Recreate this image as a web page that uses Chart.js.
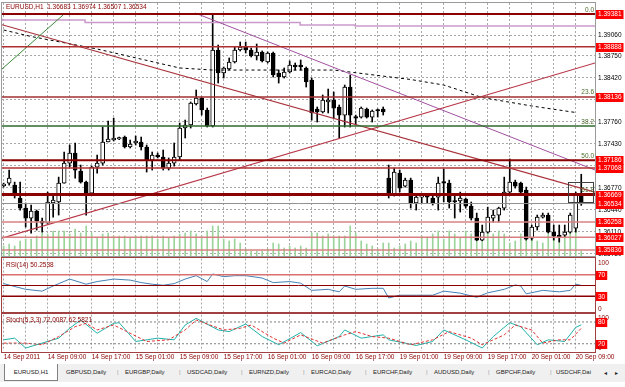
<!DOCTYPE html>
<html lang="en">
<head>
<meta charset="utf-8">
<title>EURUSD,H1</title>
<script src="https://cdn.jsdelivr.net/npm/chart.js@4.4.0/dist/chart.umd.min.js"></script>
<style>
  body { margin: 0; width: 625px; height: 387px; overflow: hidden; background: #ffffff; position: relative; font-family: "Liberation Sans", Arial, sans-serif; }
  canvas { position: absolute; left: 0; }
  #graficoPrincipal { top: 0; }
  #graficoRsi { top: 258px; }
  #graficoEstoc { top: 313px; }
  .quadro { position: absolute; left: 1px; width: 595px; box-sizing: border-box; border: 1px solid #9a9a9a; pointer-events: none; }
  .legenda { position: absolute; left: 6px; font-size: 6.5px; color: #8b0000; white-space: pre; line-height: 8px; }
  #abas { position: absolute; left: 0; top: 364px; width: 625px; height: 18px; background: #f0f0f0; font-size: 6px; color: #222; }
  #abas span { position: absolute; top: 5px; white-space: nowrap; }
  #abas .ativa { top: 0; left: 4px; width: 54px; height: 17px; background: #fff; border: 1px solid #808080; border-top: none; box-sizing: border-box; text-align: center; line-height: 16px; }
  #abas .sep { color: #999; }
</style>
</head>
<body>
<canvas id="graficoPrincipal" width="625" height="258"></canvas>
<canvas id="graficoRsi" width="625" height="55"></canvas>
<canvas id="graficoEstoc" width="625" height="50"></canvas>

<div class="quadro" style="top:2px;height:255px"></div>
<div class="quadro" style="top:257px;height:56px;border-color:#a04040"></div>
<div class="quadro" style="top:313px;height:40px;border-color:#a04040"></div>

<div class="legenda" style="top:3px">EURUSD,H1  1.36683 1.36974 1.36507 1.36534</div>
<div class="legenda" style="top:261px">RSI(14) 50.2538</div>
<div class="legenda" style="top:316px">Stoch(5,3,3) 72.0087 62.5821</div>

<div id="abas">
  <span class="ativa">EURUSD,H1</span>
  <span style="left:66px">GBPUSD,Daily</span><span class="sep" style="left:117px">|</span>
  <span style="left:125px">EURGBP,Daily</span><span class="sep" style="left:179px">|</span>
  <span style="left:187px">USDCAD,Daily</span><span class="sep" style="left:241px">|</span>
  <span style="left:249px">EURNZD,Daily</span><span class="sep" style="left:303px">|</span>
  <span style="left:311px">EURCAD,Daily</span><span class="sep" style="left:365px">|</span>
  <span style="left:373px">EURCHF,Daily</span><span class="sep" style="left:426px">|</span>
  <span style="left:434px">AUDUSD,Daily</span><span class="sep" style="left:488px">|</span>
  <span style="left:496px">GBPCHF,Daily</span><span class="sep" style="left:550px">|</span>
  <span style="left:556px">USDCHF,Dai</span>
  <span style="left:604px">&#9666;</span><span style="left:615px">&#9656;</span>
</div>

<script>
// ---------- Dados (velas de 1 hora, EURUSD) ----------
const abertura = [1.36804,1.36841,1.36811,1.36617,1.36466,1.36316,1.36421,1.36271,1.36240,1.36542,
  1.36557,1.36841,1.37142,1.37293,1.37021,1.36856,1.36691,1.37082,1.37142,1.37458,
  1.37488,1.37503,1.37533,1.37383,1.37443,1.37458,1.37383,1.37187,1.37263,1.37233,
  1.37067,1.37142,1.37233,1.37668,1.37713,1.38029,1.38119,1.37939,1.37698,1.38840,
  1.38494,1.38555,1.38660,1.38840,1.38885,1.38840,1.38750,1.38810,1.38660,1.38795,
  1.38494,1.38434,1.38509,1.38615,1.38615,1.38570,1.38389,1.37954,1.37909,1.38059,
  1.38089,1.37984,1.37863,1.38284,1.37833,1.37833,1.37954,1.37833,1.37931,1.37954,
  1.36916,1.36661,1.36991,1.36796,1.36886,1.36542,1.36631,1.36646,1.36617,1.36631,
  1.36856,1.36841,1.36572,1.36572,1.36601,1.36496,1.36316,1.35985,1.36105,1.36316,
  1.36361,1.36466,1.36706,1.36856,1.36841,1.36736,1.36015,1.36181,1.36331,1.36361,
  1.36105,1.36060,1.36060,1.36105,1.36165,1.36683]
const maxima = [1.36841,1.37037,1.36856,1.36856,1.36542,1.36511,1.36436,1.36316,1.36706,1.36661,
  1.36931,1.37308,1.37413,1.37443,1.37112,1.36871,1.37097,1.37263,1.37683,1.37773,
  1.37818,1.37533,1.37548,1.37488,1.37548,1.37533,1.37413,1.37308,1.37293,1.37338,
  1.37218,1.37443,1.37743,1.37788,1.38059,1.38239,1.38134,1.37968,1.39381,1.38915,
  1.38585,1.38720,1.38885,1.38960,1.38960,1.38870,1.38930,1.38825,1.38810,1.38810,
  1.38539,1.38570,1.38675,1.38645,1.38690,1.38585,1.38419,1.37984,1.38164,1.38254,
  1.38209,1.38014,1.38314,1.38464,1.37863,1.37984,1.37968,1.37939,1.37954,1.37984,
  1.37112,1.37067,1.37037,1.36916,1.36916,1.36661,1.36661,1.36661,1.36646,1.36931,
  1.37052,1.36886,1.36661,1.36706,1.36617,1.36557,1.36391,1.36211,1.36480,1.36436,
  1.36480,1.36931,1.37203,1.36886,1.36856,1.36781,1.36211,1.36361,1.36391,1.36391,
  1.36211,1.36211,1.36211,1.36391,1.36706,1.36974]
const minima = [1.36781,1.36811,1.36617,1.36436,1.36181,1.36090,1.36135,1.36105,1.36240,1.36331,
  1.36361,1.36841,1.37082,1.36916,1.36841,1.36361,1.36661,1.36991,1.37112,1.37458,
  1.37473,1.37495,1.37368,1.37368,1.37413,1.37338,1.37007,1.37037,1.37218,1.37037,
  1.37037,1.37097,1.37187,1.37518,1.37668,1.38014,1.37863,1.37683,1.37683,1.38344,
  1.38419,1.38539,1.38645,1.38825,1.38795,1.38735,1.38690,1.38660,1.38645,1.38434,
  1.38344,1.38419,1.38494,1.38539,1.38539,1.38284,1.37788,1.37758,1.37894,1.37894,
  1.37818,1.37518,1.37683,1.37683,1.37713,1.37818,1.37818,1.37758,1.37833,1.37863,
  1.36617,1.36646,1.36706,1.36781,1.36466,1.36436,1.36542,1.36542,1.36511,1.36436,
  1.36557,1.36466,1.36316,1.36406,1.36466,1.36286,1.35975,1.35975,1.36090,1.36256,
  1.36256,1.36436,1.36691,1.36766,1.36691,1.35985,1.35985,1.36135,1.36316,1.36090,
  1.35985,1.35955,1.36030,1.36090,1.36105,1.36507]
const fechamento = [1.36811,1.36916,1.36661,1.36466,1.36316,1.36421,1.36271,1.36240,1.36557,1.36587,
  1.36841,1.37142,1.37293,1.37037,1.36856,1.36691,1.37082,1.37142,1.37458,1.37503,
  1.37518,1.37525,1.37383,1.37428,1.37473,1.37383,1.37187,1.37263,1.37233,1.37067,
  1.37142,1.37233,1.37668,1.37713,1.38044,1.38119,1.37939,1.37698,1.38840,1.38494,
  1.38570,1.38660,1.38840,1.38885,1.38840,1.38750,1.38810,1.38675,1.38795,1.38464,
  1.38434,1.38509,1.38615,1.38585,1.38585,1.38359,1.37894,1.37909,1.38089,1.38089,
  1.37968,1.37863,1.38284,1.37863,1.37818,1.37968,1.37833,1.37924,1.37924,1.37909,
  1.36661,1.37007,1.36766,1.36886,1.36542,1.36631,1.36638,1.36631,1.36542,1.36841,
  1.36841,1.36557,1.36557,1.36617,1.36496,1.36316,1.35985,1.36105,1.36331,1.36361,
  1.36466,1.36706,1.36856,1.36796,1.36706,1.36000,1.36181,1.36331,1.36361,1.36105,
  1.36045,1.36030,1.36105,1.36361,1.36676,1.36534]
// volume de ticks por barra
const volume = [1000,1200,1000,1500,1700,1700,2000,2300,2200,2500,
  2500,2500,2200,2700,2300,3000,2300,1800,2200,2300,
  2000,2000,2000,1800,2000,2000,2000,2000,1700,2000,
  1800,2000,2200,2300,2500,2200,2000,2500,3000,3000,
  1700,1500,1700,1300,700,500,500,500,700,1300,
  1200,800,1000,800,1000,800,2300,2300,2000,2200,
  2000,2000,2000,3000,2300,1500,1200,1000,700,1300,
  1300,800,1000,1200,1500,1300,2000,1800,2200,2500,
  1700,2500,2200,1800,2500,2200,2000,2800,2500,2200,
  2500,2200,1300,1500,2200,2700,2000,1500,1300,2200,
  1800,1800,2200,2500,2800,500]

// rótulos do eixo de tempo (uma a cada 8 barras)
const rotulosTempo = ['14 Sep 2011','14 Sep 09:00','14 Sep 17:00','15 Sep 01:00','15 Sep 09:00','15 Sep 17:00',
  '16 Sep 01:00','16 Sep 09:00','16 Sep 17:00','19 Sep 01:00','19 Sep 09:00','19 Sep 17:00','20 Sep 01:00','20 Sep 09:00']
// escala de preços
const rotulosPreco = [1.39390,1.39060,1.38750,1.38420,1.38090,1.37760,1.37430,1.37100,1.36770,1.36440,1.36110,1.35780]
// níveis horizontais desenhados (suporte / resistência)
const niveis = [1.39381,1.38888,1.38136,1.37698,1.37186,1.37068,1.36669,1.36534,1.36258,1.36027,1.35836]
const niveisMarcados = [1.39381,1.38888,1.38136,1.37186,1.37068,1.36669,1.36534,1.36258,1.36027,1.35836]
// níveis de Fibonacci
const fiboTextos = ['0.0','23.6','38.2','50.0','61.8']
const fiboPrecos = [1.39381,1.38136,1.37698,1.37186,1.36669]

// linhas de tendência (barra, preço)
const tendenciaVerde = [{x: -0.3, y: 1.38555}, {x: 10.8, y: 1.39366}]
const tendenciaBaixaVermelha = [{x: -0.3, y: 1.39220}, {x: 107.5, y: 1.36706}]
const tendenciaBaixaRoxa = [{x: 34.8, y: 1.39396}, {x: 107.5, y: 1.37037}]
const tendenciaAltaVermelha = [{x: -0.3, y: 1.36015}, {x: 107.5, y: 1.38645}]
const degrausRoxos = [{x: -0.3, y: 1.39313}, {x: 14.8, y: 1.39291}, {x: 53.9, y: 1.39253}, {x: 63.9, y: 1.39215}, {x: 103, y: 1.39200}, {x: 107.5, y: 1.39200}]
const mediaBarras = [0, 5, 17, 32, 38, 60, 74, 80, 87, 96, 104]
const mediaValores = [1.39140,1.39043,1.38855,1.38570,1.38539,1.38539,1.38397,1.38314,1.38126,1.37999,1.37901]

// RSI(14)
const rsiBarras = [0,4,7,9,12,15,17,20,23,25,27,29,31,33,35,37,38,40,42,44,47,49,52,54,56,59,61,62,64,67,69,70,72,75,78,80,83,86,88,91,93,94,95,98,101,103,104,105]
const rsiValores = [53.5,42.9,39.6,49.1,61.9,52.4,57.3,61.9,60,55.4,52.4,50.5,53.5,61.9,68.2,57.3,71.4,66.3,68.2,68.2,63.8,55.4,57.3,54.3,41,42.9,38.3,49.1,42.9,44.8,44.8,26.9,32,32,32,39.6,35.8,28.2,36.4,42.9,51,49.1,34.5,41,38.3,41,52.4,50.25]

// Estocástico(5,3,3)
const estocBarras = [0,2,4,7,10,12,14,17,20,21,24,28,31,33,35,39,41,44,47,50,54,57,61,62,65,69,70,75,78,80,84,87,89,92,94,97,99,102,104,105]
const estocValores = [30.8,35.4,8.2,21.8,35.4,62.7,85.3,49,76.3,77.9,26.2,35.4,30.8,71.7,89.9,58,53.4,74.4,39.8,17.2,50.7,14.4,39.8,58,35.4,44.4,30.8,15.3,26.2,58,30.8,8.2,39.8,77.9,67,17.2,30.8,26.2,65,72.0]
const sinalBarras = [0,4,7,10,13,15,17,20,23,26,30,33,35,40,43,45,49,51,54,58,62,64,67,70,74,78,81,85,87,91,93,96,98,101,103,105]
const sinalValores = [21.8,21.8,17.2,39.8,67,76.3,58,71.7,49,26.2,30.8,58,85.3,58,62.7,71.7,35.4,21.8,44.4,21.8,44.4,53.4,39.8,35.4,17.2,30.8,53.4,35.4,17.2,44.4,71.7,58,21.8,30.8,30.8,62.6]

// ---------- Montagem ----------
const barras = abertura.map((_, i) => i)
const fonte = {family: 'Liberation Sans', size: 6.5}

// Plugin que escreve os rótulos da direita (caixas vermelhas e textos soltos)
const rotulosLaterais = {
  id: 'rotulosLaterais',
  afterDraw(chart, args, opcoes) {
    const ctx = chart.ctx
    const escala = chart.scales.y
    const direita = chart.chartArea.right
    ctx.save()
    ctx.font = '6.5px "Liberation Sans"'
    ctx.textBaseline = 'middle'
    ctx.textAlign = 'left'
    for (const item of opcoes.itens) {
      const y = escala.getPixelForValue(item.valor) + (item.ajuste || 0)
      if (item.caixa) {
        const largura = ctx.measureText(item.texto).width + 4
        ctx.fillStyle = '#ff0000'
        ctx.fillRect(direita + 1, Math.round(y) - 4, largura, 9)
        ctx.fillStyle = '#ffffff'
      } else {
        ctx.fillStyle = opcoes.cor
      }
      ctx.fillText(item.texto, direita + 3, y + 0.5)
    }
    ctx.restore()
  }
}

// Plugin dos textos de Fibonacci e do retângulo perto da última vela
const desenhosExtras = {
  id: 'desenhosExtras',
  afterDatasetsDraw(chart) {
    const ctx = chart.ctx
    const sx = chart.scales.x, sy = chart.scales.y
    ctx.save()
    ctx.font = '6.5px "Liberation Sans"'
    ctx.fillStyle = '#4b6b2b'
    ctx.textAlign = 'right'
    ctx.textBaseline = 'bottom'
    fiboTextos.forEach((t, k) => {
      ctx.fillText(t, chart.chartArea.right - 1, sy.getPixelForValue(fiboPrecos[k]) - 1)
    })
    // retângulo
    const x1 = sx.getPixelForValue(102.6), x2 = sx.getPixelForValue(107.2)
    const y1 = sy.getPixelForValue(1.36856), y2 = sy.getPixelForValue(1.36557)
    ctx.strokeStyle = '#404040'
    ctx.lineWidth = 1
    ctx.strokeRect(Math.round(x1) + 0.5, Math.round(y1) + 0.5, Math.round(x2 - x1), Math.round(y2 - y1))
    ctx.restore()
  }
}

// zera o preenchimento automático que o Chart.js reserva para os rótulos
function semPreenchimento(escala) {
  escala.paddingTop = 0
  escala.paddingBottom = 0
  escala.paddingLeft = 0
  escala.paddingRight = 0
}

function eixoTempo(comRotulos) {
  return {
    type: 'linear', min: -0.3, max: 107.5, offset: false,
    afterBuildTicks: escala => {
      const marcas = []
      for (let v = 0; v <= 104; v += 4) marcas.push({value: v})
      escala.ticks = marcas
    },
    afterFit: escala => { escala.height = comRotulos ? 12 : 0; semPreenchimento(escala) },
    grid: {color: '#a8a8a8', drawTicks: false, offset: false},
    border: {display: false, dash: [2, 2]},
    ticks: {
      display: comRotulos, autoSkip: false, maxRotation: 0, align: 'start', padding: 2,
      color: '#8b0000', font: fonte,
      callback: v => (v % 8 === 0 ? rotulosTempo[v / 8] : '')
    }
  }
}

function eixoIndicador() {
  return {
    position: 'right', min: 0, max: 100,
    afterFit: escala => { escala.width = 30; semPreenchimento(escala) },
    grid: {display: false}, border: {display: false}, ticks: {display: false}
  }
}

function linha(dados, cor, espessura, extra) {
  return Object.assign({
    type: 'line', data: dados, borderColor: cor, borderWidth: espessura,
    pointRadius: 0, fill: false, tension: 0, order: 0, yAxisID: 'y'
  }, extra || {})
}

const extremoX = [-0.3, 107.5]
const linhasNiveis = niveis.map((p, k) => linha(
  extremoX.map(x => ({x: x, y: p})),
  ['#8b0000','#b03030','#a03030','#2e6b2e','#8b0000','#b03030','#8b0000','#909090','#d88080','#d88080','#d88080'][k],
  [2, 1.5, 1.5, 1.5, 2, 1.5, 3, 1, 1.5, 1.5, 1.5][k]
))

new Chart(document.getElementById('graficoPrincipal'), {
  type: 'bar',
  data: {
    datasets: [
      ...linhasNiveis,
      linha(tendenciaVerde, '#3a8a3a', 1),
      linha(tendenciaBaixaVermelha, '#a83038', 1.2),
      linha(tendenciaAltaVermelha, '#b83848', 1.2),
      linha(tendenciaBaixaRoxa, '#a050a0', 1),
      linha(degrausRoxos, '#cc99cc', 1.5, {stepped: 'after'}),
      linha(mediaBarras.map((b, k) => ({x: b, y: mediaValores[k]})), '#000000', 1, {borderDash: [3, 3]}),
      {
        label: 'corpo', data: barras.map(i => ({x: i, y: [abertura[i], fechamento[i]]})),
        backgroundColor: barras.map(i => (fechamento[i] >= abertura[i] ? '#ffffff' : '#000000')),
        borderColor: '#000000', borderWidth: 1, borderSkipped: false, minBarLength: 1.5,
        barThickness: 4, grouped: false, order: 1, yAxisID: 'y'
      },
      {
        label: 'pavio', data: barras.map(i => ({x: i, y: [minima[i], maxima[i]]})),
        backgroundColor: '#000000', barThickness: 1, grouped: false, order: 2, yAxisID: 'y'
      },
      {
        label: 'volume', data: barras.map(i => ({x: i, y: volume[i]})),
        backgroundColor: '#9ad49a', barThickness: 1, grouped: false, order: 3, yAxisID: 'vol'
      }
    ]
  },
  options: {
    responsive: false, animation: false, events: [],
    layout: {padding: {left: 2, top: 3, bottom: 2, right: 0}},
    plugins: {
      legend: {display: false}, tooltip: {enabled: false},
      rotulosLaterais: {cor: '#000000', itens: niveisMarcados.map(v => ({valor: v, texto: v.toFixed(5), caixa: true}))}
    },
    scales: {
      x: eixoTempo(false),
      y: {
        position: 'right', min: 1.35746, max: 1.39546,
        afterBuildTicks: escala => { escala.ticks = rotulosPreco.map(v => ({value: v})) },
        afterFit: escala => { escala.width = 30; semPreenchimento(escala) },
        grid: {color: '#a8a8a8', drawTicks: false},
        border: {display: false, dash: [2, 2]},
        ticks: {autoSkip: false, padding: 3, color: '#000000', font: fonte, callback: v => v.toFixed(5)}
      },
      vol: {display: false, min: 0, max: 25300}
    }
  },
  plugins: [rotulosLaterais, desenhosExtras]
})

// RSI
new Chart(document.getElementById('graficoRsi'), {
  type: 'line',
  data: {
    datasets: [
      linha(extremoX.map(x => ({x: x, y: 70})), '#d87070', 1.5),
      linha(extremoX.map(x => ({x: x, y: 50})), '#8b0000', 1),
      linha(extremoX.map(x => ({x: x, y: 30})), '#8b0000', 1.5),
      linha(rsiBarras.map((b, k) => ({x: b, y: rsiValores[k]})), '#4682b4', 1)
    ]
  },
  options: {
    responsive: false, animation: false, events: [],
    layout: {padding: {left: 2, top: 0.5, bottom: 0.5, right: 0}},
    plugins: {
      legend: {display: false}, tooltip: {enabled: false},
      rotulosLaterais: {cor: '#8b0000', itens: [
        {valor: 100, texto: '100', ajuste: 4}, {valor: 70, texto: '70', caixa: true},
        {valor: 30, texto: '30', caixa: true}, {valor: 0, texto: '0', ajuste: -4}]}
    },
    scales: {x: eixoTempo(false), y: eixoIndicador()}
  },
  plugins: [rotulosLaterais]
})

// Estocástico
new Chart(document.getElementById('graficoEstoc'), {
  type: 'line',
  data: {
    datasets: [
      linha(extremoX.map(x => ({x: x, y: 80})), '#808080', 1, {borderDash: [2, 2]}),
      linha(extremoX.map(x => ({x: x, y: 20})), '#808080', 1, {borderDash: [2, 2]}),
      linha(sinalBarras.map((b, k) => ({x: b, y: sinalValores[k]})), '#e03030', 1, {borderDash: [3, 2]}),
      linha(estocBarras.map((b, k) => ({x: b, y: estocValores[k]})), '#20b2aa', 1)
    ]
  },
  options: {
    responsive: false, animation: false, events: [],
    layout: {padding: {left: 2, top: 1.7, bottom: 0, right: 0}},
    plugins: {
      legend: {display: false}, tooltip: {enabled: false},
      rotulosLaterais: {cor: '#8b0000', itens: [
        {valor: 100, texto: '100', ajuste: 3}, {valor: 80, texto: '80', caixa: true},
        {valor: 20, texto: '20', caixa: true}, {valor: 0, texto: '0', ajuste: -3}]}
    },
    scales: {x: eixoTempo(true), y: eixoIndicador()}
  },
  plugins: [rotulosLaterais]
})
</script>
</body>
</html>
